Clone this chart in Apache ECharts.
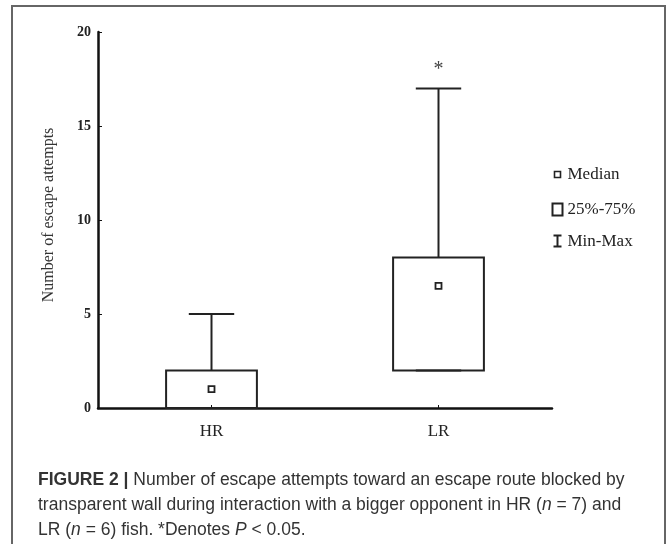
<!DOCTYPE html>
<html>
<head>
<meta charset="utf-8">
<script src="https://cdn.jsdelivr.net/npm/echarts@6/dist/echarts.min.js"></script>
<style>
  html, body { margin: 0; padding: 0; background: #fff; }
  #main { width: 667px; height: 544px; }
</style>
</head>
<body>
<div id="main"></div>
<script>
// 数据：每组 [min, Q1, median, Q3, max]
const groups = ["HR", "LR"];
const hrStats = [0, 0, 1, 2, 5];
const lrStats = [2, 2, 6.5, 8, 17];
const signif = ["", "*"];
const yTicks = [0, 5, 10, 15, 20];

const chart = echarts.init(document.getElementById("main"));
const serif = "Liberation Serif";
const ink = "#222";

const boxData = [hrStats, lrStats].map((s, i) => [i].concat(s));

function renderBox(params, api) {
  const idx = api.value(0);
  const [x, yMin] = api.coord([idx, api.value(1)]);
  const yQ1 = api.coord([idx, api.value(2)])[1];
  const yMed = api.coord([idx, api.value(3)])[1];
  const yQ3 = api.coord([idx, api.value(4)])[1];
  const yMax = api.coord([idx, api.value(5)])[1];
  const band = api.size([1, 0])[0];
  const half = band * 0.2;
  const cap = band * 0.1;
  const line = { stroke: ink, lineWidth: 2, fill: null };
  const children = [
    { type: "line", shape: { x1: x, y1: yQ3, x2: x, y2: yMax }, style: line },
    { type: "line", shape: { x1: x - cap, y1: yMax, x2: x + cap, y2: yMax }, style: line },
    { type: "line", shape: { x1: x, y1: yQ1, x2: x, y2: yMin }, style: line },
    { type: "line", shape: { x1: x - cap, y1: yMin, x2: x + cap, y2: yMin }, style: line },
    { type: "rect", shape: { x: x - half, y: yQ3, width: half * 2, height: yQ1 - yQ3 }, style: line },
    { type: "rect", shape: { x: x - 3, y: yMed - 3, width: 6, height: 6 }, style: { stroke: ink, lineWidth: 1.8, fill: "#fff" } }
  ];
  if (signif[idx]) {
    children.push({
      type: "text",
      style: { text: signif[idx], x: x, y: yMax - 19, align: "center", verticalAlign: "middle", font: "20px " + serif, fill: "#444" }
    });
  }
  return { type: "group", children };
}

const option = {
  animation: false,
  backgroundColor: "#fff",
  grid: { left: 98, right: 115, top: 32, bottom: 136 },
  xAxis: {
    type: "category",
    data: groups,
    axisLine: { lineStyle: { color: "#111", width: 2.5 } },
    axisTick: { show: true, inside: true, length: 3, alignWithLabel: true, lineStyle: { color: "#111" } },
    axisLabel: { fontFamily: serif, fontSize: 17, color: ink, margin: 15 }
  },
  yAxis: {
    type: "value",
    min: yTicks[0],
    max: yTicks[yTicks.length - 1],
    interval: 5,
    name: "Number of escape attempts",
    nameLocation: "middle",
    nameRotate: 90,
    nameGap: 41,
    nameTextStyle: { fontFamily: serif, fontSize: 16, color: "#333", padding: [0, 0, 0, 10] },
    splitLine: { show: false },
    axisLine: { show: true, lineStyle: { color: "#111", width: 2.5 } },
    axisTick: { show: true, inside: true, length: 4, lineStyle: { color: "#111" } },
    axisLabel: { fontFamily: serif, fontSize: 14, fontWeight: "bold", color: ink, margin: 7 }
  },
  series: [
    {
      type: "custom",
      renderItem: renderBox,
      encode: { x: 0, y: [1, 2, 3, 4, 5] },
      data: boxData
    }
  ],
  title: {
    left: 33,
    top: 463,
    text:
      "{b|FIGURE 2 |} Number of escape attempts toward an escape route blocked by\n" +
      "transparent wall during interaction with a bigger opponent in HR ({i|n} = 7) and\n" +
      "LR ({i|n} = 6) fish. *Denotes {i|P} < 0.05.",
    textStyle: {
      fontFamily: "Liberation Sans",
      fontSize: 17.5,
      fontWeight: "normal",
      color: "#333",
      lineHeight: 25,
      rich: {
        b: { fontFamily: "Liberation Sans", fontSize: 17.5, fontWeight: "bold", color: "#333", lineHeight: 25 },
        i: { fontFamily: "Liberation Sans", fontSize: 17.5, fontStyle: "italic", color: "#333", lineHeight: 25 }
      }
    }
  },
  graphic: [
    {
      type: "rect",
      shape: { x: 12, y: 6, width: 653, height: 560 },
      style: { stroke: "#666", lineWidth: 2, fill: null },
      silent: true
    },
    {
      type: "group",
      left: 551,
      top: 166,
      children: [
        { type: "rect", shape: { x: 2, y: 4, width: 6, height: 6 }, style: { stroke: ink, lineWidth: 1.6, fill: "#fff" } },
        { type: "text", style: { text: "Median", x: 15, y: 7, verticalAlign: "middle", font: "17px " + serif, fill: ink } },
        { type: "rect", shape: { x: 0, y: 36, width: 10, height: 12 }, style: { stroke: ink, lineWidth: 2, fill: "#fff" } },
        { type: "text", style: { text: "25%-75%", x: 15, y: 42, verticalAlign: "middle", font: "17px " + serif, fill: ink } },
        { type: "line", shape: { x1: 5, y1: 68, x2: 5, y2: 79 }, style: { stroke: ink, lineWidth: 2 } },
        { type: "line", shape: { x1: 1, y1: 68, x2: 9, y2: 68 }, style: { stroke: ink, lineWidth: 2 } },
        { type: "line", shape: { x1: 1, y1: 79, x2: 9, y2: 79 }, style: { stroke: ink, lineWidth: 2 } },
        { type: "text", style: { text: "Min-Max", x: 15, y: 74, verticalAlign: "middle", font: "17px " + serif, fill: ink } }
      ]
    }
  ]
};

chart.setOption(option);
</script>
</body>
</html>
